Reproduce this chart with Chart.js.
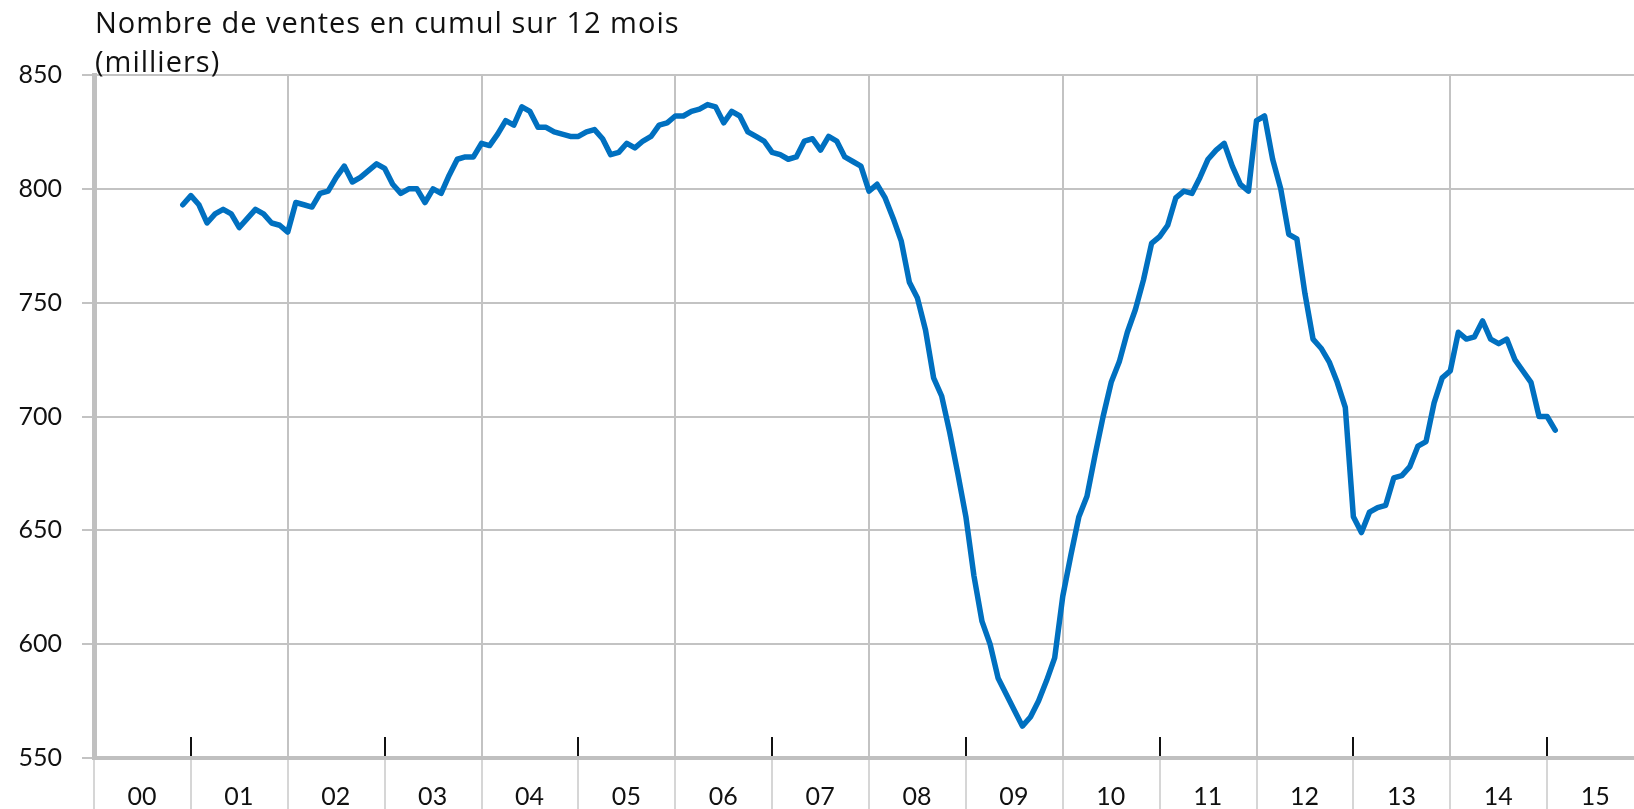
<!DOCTYPE html>
<html>
<head>
<meta charset="utf-8">
<script src="https://cdn.jsdelivr.net/npm/chart.js"></script>
<style>
  html, body { margin:0; padding:0; overflow:hidden; background:#fff; }
  #wrap { width:1650px; height:809px; position:relative; }
</style>
</head>
<body>
<div id="wrap"><canvas id="myChart"></canvas></div>
<script>
  var titre = ["Nombre de ventes en cumul sur 12 mois", "(milliers)"];
  var annees = ["00","01","02","03","04","05","06","07","08","09","10","11","12","13","14","15"];
  var premierMois = 11; // dec 2000, months counted from jan 2000
  var ventes = [
    793,                                                            // 2000
    797, 793, 785, 789, 791, 789, 783, 787, 791, 789, 785, 784,     // 2001
    781, 794, 793, 792, 798, 799, 805, 810, 803, 805, 808, 811,     // 2002
    809, 802, 798, 800, 800, 794, 800, 798, 806, 813, 814, 814,     // 2003
    820, 819, 824, 830, 828, 836, 834, 827, 827, 825, 824, 823,     // 2004
    823, 825, 826, 822, 815, 816, 820, 818, 821, 823, 828, 829,     // 2005
    832, 832, 834, 835, 837, 836, 829, 834, 832, 825, 823, 821,     // 2006
    816, 815, 813, 814, 821, 822, 817, 823, 821, 814, 812, 810,     // 2007
    799, 802, 796, 787, 777, 759, 752, 738, 717, 709, 693, 675,     // 2008
    656, 630, 610, 600, 585, 578, 571, 564, 568, 575, 584, 594,     // 2009
    621, 639, 656, 665, 683, 700, 715, 724, 737, 747, 760, 776,     // 2010
    779, 784, 796, 799, 798, 805, 813, 817, 820, 810, 802, 799,     // 2011
    830, 832, 813, 800, 780, 778, 754, 734, 730, 724, 715, 704,     // 2012
    656, 649, 658, 660, 661, 673, 674, 678, 687, 689, 706, 717,     // 2013
    720, 737, 734, 735, 742, 734, 732, 734, 725, 720, 715, 700,     // 2014
    700, 694                                                        // 2015
  ];
  var yMin = 550, yMax = 850, yStep = 50;

  var grille = '#c3c3c3';
  var police = 'Lato';

  Chart.defaults.font.family = police;
  Chart.defaults.color = '#111';

  function getPoints() {
    var pts = [];
    for (var i = 0; i < ventes.length; i++)
      pts.push({x: premierMois + i, y: ventes[i]});
    return pts;
  }

  // title + the small black ticks on odd years
  var decor = {
    id: 'decor',
    afterDraw: function(chart) {
      var ctx = chart.ctx, area = chart.chartArea, xs = chart.scales.x;
      ctx.save();
      ctx.strokeStyle = '#111';
      ctx.lineWidth = 2;
      for (var k = 1; k < annees.length; k += 2) {
        var px = Math.round(xs.getPixelForValue(k * 12));
        ctx.beginPath();
        ctx.moveTo(px, area.bottom - 21);
        ctx.lineTo(px, area.bottom - 2);
        ctx.stroke();
      }
      ctx.fillStyle = '#111';
      ctx.font = '29px "Open Sans"';
      ctx.letterSpacing = '1px';
      ctx.textAlign = 'left';
      ctx.textBaseline = 'alphabetic';
      ctx.fillText(titre[0], area.left + 1, area.top - 42);
      ctx.fillText(titre[1], area.left + 1, area.top - 3);
      ctx.restore();
    }
  };

  var ctx = document.getElementById('myChart');
  new Chart(ctx, {
    type: 'line',
    data: {
      datasets: [{
        data: getPoints(),
        borderColor: '#0070c0',
        borderWidth: 5.5,
        pointRadius: 0,
        tension: 0,
        borderCapStyle: 'round',
        borderJoinStyle: 'round'
      }]
    },
    options: {
      responsive: true,
      maintainAspectRatio: false,
      animation: false,
      layout: { padding: { top: 75, right: 6, left: 0, bottom: 0 } },
      plugins: { legend: { display: false }, tooltip: { enabled: false } },
      scales: {
        x: {
          type: 'linear',
          min: 0,
          max: annees.length * 12,
          afterBuildTicks: function(s) {
            var t = [];
            for (var k = 0; k <= annees.length; k++) t.push({value: k * 12});
            s.ticks = t;
          },
          afterFit: function(s) { s.height = 51; },
          ticks: {
            autoSkip: false,
            maxRotation: 0,
            labelOffset: 48,
            padding: -36,
            font: { size: 25 },
            callback: function(v) { return annees[v / 12] || ''; }
          },
          grid: {
            color: function(c) { return (c.tick && c.tick.value % 24 === 0) ? grille : 'rgba(0,0,0,0)'; },
            lineWidth: 2,
            drawTicks: true,
            tickLength: 60,
            tickColor: '#c8c8c8',
            tickWidth: 1.5
          },
          border: { color: '#c0c0c0', width: 4 }
        },
        y: {
          min: yMin,
          max: yMax,
          afterFit: function(s) { s.width = 94; },
          ticks: { stepSize: yStep, padding: 20, font: { size: 25 } },
          grid: { color: grille, lineWidth: 2, tickLength: 12, tickColor: grille },
          border: { color: '#c0c0c0', width: 5 }
        }
      }
    },
    plugins: [decor]
  });
</script>
</body>
</html>
